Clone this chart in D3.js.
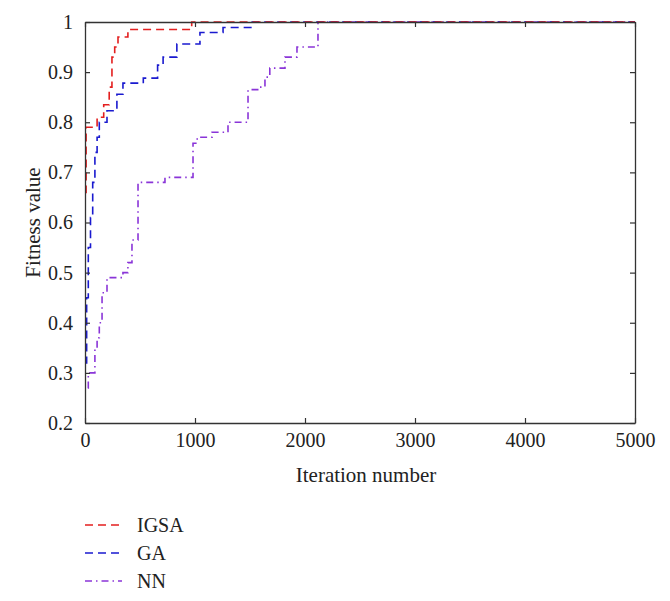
<!DOCTYPE html>
<html>
<head>
<meta charset="utf-8">
<script src="https://cdn.jsdelivr.net/npm/d3@7"></script>
<style>
  body { margin: 0; background: #fff; }
  svg text { font-family: "Liberation Serif", "DejaVu Serif", serif; fill: #222; }
</style>
</head>
<body>
<div id="chart"></div>
<script>
// iteration / fitness pairs
const igsaIter = [0, 10, 110, 170, 220, 245, 270, 300, 390, 970, 5000];
const igsaFit  = [0.66, 0.79, 0.81, 0.835, 0.87, 0.93, 0.95, 0.97, 0.985, 1.0, 1.0];

const gaIter = [0, 15, 30, 50, 70, 90, 110, 130, 200, 290, 345, 530, 660, 710, 835, 1045, 1255, 1520, 5000];
const gaFit  = [0.32, 0.45, 0.55, 0.61, 0.68, 0.74, 0.77, 0.8, 0.823, 0.856, 0.878, 0.888, 0.914, 0.93, 0.956, 0.979, 0.989, 1.0, 1.0];

const nnIter = [25, 30, 90, 110, 130, 155, 200, 345, 390, 427, 482, 727, 982, 1020, 1155, 1300, 1482, 1590, 1636, 1680, 1818, 1927, 2118, 5000];
const nnFit  = [0.27, 0.30, 0.35, 0.37, 0.40, 0.46, 0.49, 0.50, 0.52, 0.565, 0.68, 0.69, 0.758, 0.77, 0.78, 0.80, 0.865, 0.87, 0.89, 0.908, 0.93, 0.95, 1.0, 1.0];

const seriesNames = ["IGSA", "GA", "NN"];
const xTicks = [0, 1000, 2000, 3000, 4000, 5000];
const yTicks = [0.2, 0.3, 0.4, 0.5, 0.6, 0.7, 0.8, 0.9, 1];

const styles = {
    IGSA: { color: "#e31f1f", dash: "8,5" },
    GA:   { color: "#1a1acf", dash: "8,5" },
    NN:   { color: "#8a35d8", dash: "7,4,1.5,4" }
};

const series = [
    { name: "IGSA", pts: igsaIter.map((v, i) => [v, igsaFit[i]]) },
    { name: "GA", pts: gaIter.map((v, i) => [v, gaFit[i]]) },
    { name: "NN", pts: nnIter.map((v, i) => [v, nnFit[i]]) }
];

const width = 670, height = 601;
const plot = { left: 85, right: 635, top: 22, bottom: 423 };

const svg = d3.select("#chart").append("svg")
    .attr("width", width)
    .attr("height", height);

const x = d3.scaleLinear().domain([0, 5000]).range([plot.left, plot.right]);
const y = d3.scaleLinear().domain([0.2, 1]).range([plot.bottom, plot.top]);

const line = d3.line()
    .x(d => x(d[0]))
    .y(d => y(d[1]))
    .curve(d3.curveStepAfter);

// draw curves (NN first so IGSA/GA sit on top at 1.0)
[series[2], series[1], series[0]].forEach(s => {
    svg.append("path")
        .datum(s.pts)
        .attr("fill", "none")
        .attr("stroke", styles[s.name].color)
        .attr("stroke-width", 1.6)
        .attr("stroke-dasharray", styles[s.name].dash)
        .attr("d", line);
});

// axes, ticks point inward on all four sides
const fmtY = d => d === 1 ? "1" : d3.format(".1f")(d);
const axisFont = "20px";

const axBottom = svg.append("g")
    .attr("transform", `translate(0,${plot.bottom})`)
    .call(d3.axisBottom(x).tickValues(xTicks).tickFormat(d3.format("d"))
        .tickSizeInner(-5).tickSizeOuter(0).tickPadding(10));
const axLeft = svg.append("g")
    .attr("transform", `translate(${plot.left},0)`)
    .call(d3.axisLeft(y).tickValues(yTicks).tickFormat(fmtY)
        .tickSizeInner(-5).tickSizeOuter(0).tickPadding(12));
const axTop = svg.append("g")
    .attr("transform", `translate(0,${plot.top})`)
    .call(d3.axisTop(x).tickValues(xTicks).tickFormat("").tickSizeInner(-5).tickSizeOuter(0));
const axRight = svg.append("g")
    .attr("transform", `translate(${plot.right},0)`)
    .call(d3.axisRight(y).tickValues(yTicks).tickFormat("").tickSizeInner(-5).tickSizeOuter(0));

[axBottom, axLeft, axTop, axRight].forEach(g => {
    g.select(".domain").attr("stroke", "#333").attr("stroke-width", 1.3);
    g.selectAll(".tick line").attr("stroke", "#333").attr("stroke-width", 1.2);
    g.selectAll(".tick text")
        .style("font-family", "Liberation Serif, serif")
        .style("font-size", axisFont)
        .attr("fill", "#222");
});

// axis titles
svg.append("text")
    .attr("x", (plot.left + plot.right) / 2 + 6)
    .attr("y", 482)
    .attr("text-anchor", "middle")
    .style("font-size", "21px")
    .text("Iteration number");

svg.append("text")
    .attr("transform", `translate(40,${(plot.top + plot.bottom) / 2}) rotate(-90)`)
    .attr("text-anchor", "middle")
    .style("font-size", "21px")
    .text("Fitness value");

// legend
const legend = svg.append("g").attr("transform", "translate(85,525)");
seriesNames.forEach((name, i) => {
    const row = legend.append("g").attr("transform", `translate(0,${i * 28})`);
    row.append("line")
        .attr("x1", 0).attr("x2", 37)
        .attr("stroke", styles[name].color)
        .attr("stroke-width", 1.6)
        .attr("stroke-dasharray", styles[name].dash);
    row.append("text")
        .attr("x", 52)
        .attr("y", 7)
        .style("font-size", "20px")
        .text(name);
});
</script>
</body>
</html>
